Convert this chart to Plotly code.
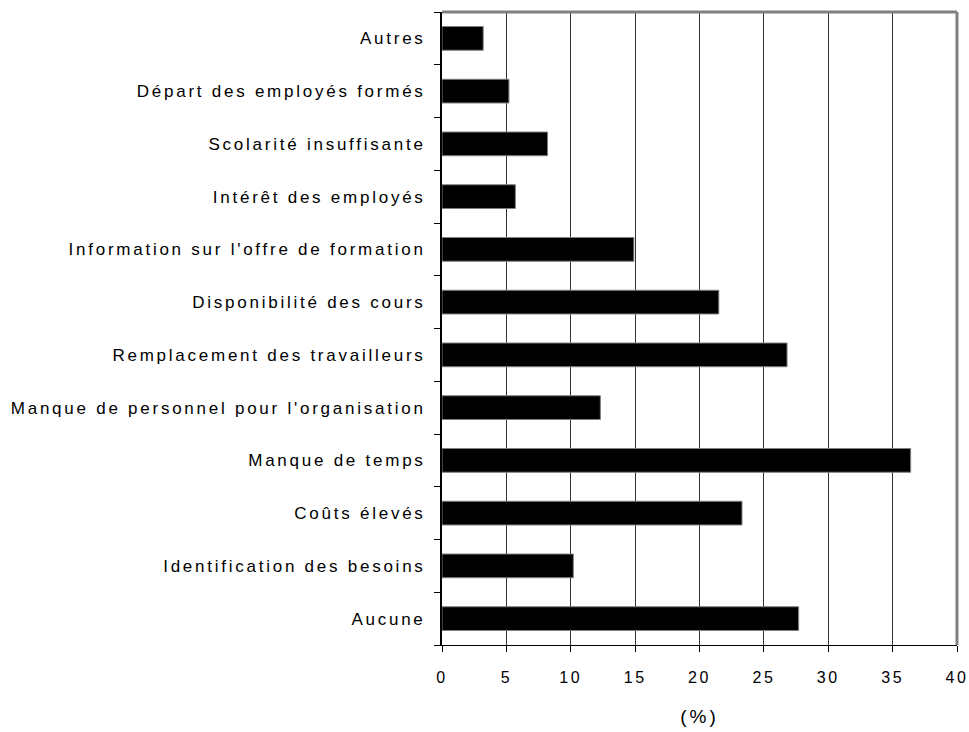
import plotly.graph_objects as go

categories = [
    "Aucune",
    "Identification des besoins",
    "Coûts élevés",
    "Manque de temps",
    "Manque de personnel pour l'organisation",
    "Remplacement des travailleurs",
    "Disponibilité des cours",
    "Information sur l'offre de formation",
    "Intérêt des employés",
    "Scolarité insuffisante",
    "Départ des employés formés",
    "Autres",
]
values = [27.7, 10.2, 23.3, 36.4, 12.3, 26.8, 21.5, 14.9, 5.7, 8.2, 5.2, 3.2]
x_ticks = [0, 5, 10, 15, 20, 25, 30, 35, 40]

fig = go.Figure(
    go.Bar(
        x=values,
        y=categories,
        orientation="h",
        marker=dict(color="#000000", line=dict(color="#808080", width=1)),
        hoverinfo="x+y",
    )
)

fig.update_layout(
    width=969,
    height=732,
    paper_bgcolor="white",
    plot_bgcolor="white",
    margin=dict(l=442, r=12, t=12, b=87, autoexpand=False),
    bargap=0.55,
    showlegend=False,
    font=dict(family="Liberation Sans, Arial, sans-serif", size=17, color="#000000"),
    xaxis=dict(
        range=[0, 40],
        tickvals=x_ticks,
        ticks="outside",
        ticklen=6,
        tickcolor="#000000",
        ticklabelstandoff=12,
        ticklabeloverflow="allow",
        showgrid=True,
        gridcolor="#333333",
        gridwidth=1,
        showline=True,
        linecolor="#000000",
        linewidth=1,
        zeroline=False,
        tickfont=dict(size=16),
        title=dict(text="(%)", font=dict(size=19), standoff=24),
        fixedrange=True,
    ),
    yaxis=dict(
        categoryorder="array",
        categoryarray=categories,
        ticks="outside",
        tickson="boundaries",
        ticklen=6,
        tickcolor="#000000",
        ticklabelstandoff=11,
        showgrid=False,
        showline=True,
        linecolor="#000000",
        linewidth=2,
        zeroline=False,
        tickfont=dict(size=17),
        fixedrange=True,
    ),
    shapes=[
        dict(type="line", xref="paper", yref="paper", x0=0, x1=1, y0=1, y1=1,
             line=dict(color="#808080", width=3)),
        dict(type="line", xref="paper", yref="paper", x0=1, x1=1, y0=0, y1=1,
             line=dict(color="#808080", width=3)),
    ],
)

post = """
var s = document.createElement('style');
s.textContent = '.ytick text{letter-spacing:2.75px;} .xtick text{letter-spacing:2.5px;} .xtitle{letter-spacing:3px;} html,body{margin:0;padding:0;overflow:hidden;}';
document.head.appendChild(s);
"""

fig.write_html("out.html", post_script=post, config={"displayModeBar": False})
